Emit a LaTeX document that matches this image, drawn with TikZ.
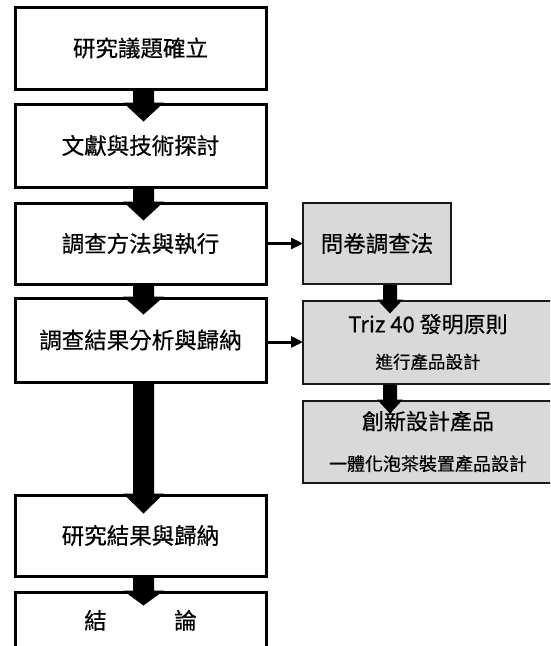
\documentclass[tikz,border=0pt]{standalone}
\usepackage{fontspec}
\setmainfont{Noto Sans CJK TC}[FakeBold=0.5]
\usetikzlibrary{calc,arrows.meta}
\tikzset{
  whitebox/.style={draw=black, line width=3pt, fill=white, inner sep=0pt, minimum width=251pt,
    font=\fontsize{22.5}{27}\selectfont},
  graybox/.style={draw=black!90, line width=2pt, fill=graybg, inner sep=0pt,
    font=\fontsize{22.5}{27}\selectfont, align=center},
  sidearrow/.style={draw=black, line width=3pt, -{Triangle[length=12pt,width=11pt]}, shorten >=-1pt},
}
\definecolor{graybg}{HTML}{D9D9D9}
% big block arrow from the bottom of #1 to the top of #2, x offset #3, shaft half width #4, head half width #5, head length #6
\newcommand\blockarrow[6]{%
  \fill[black] let \p1=(#1.south), \p2=(#2.north) in
    (\x1+#3-#4,\y1) -- (\x1+#3+#4,\y1) -- (\x1+#3+#4,\y2) -- (\x1+#3+#5,\y2)
    -- (\x1+#3,\y2-#6) -- (\x1+#3-#5,\y2) -- (\x1+#3-#4,\y2) -- cycle;}
\begin{document}
\begin{tikzpicture}[x=1pt,y=-1pt]
\useasboundingbox (0,0) rectangle (550,646);
\fill[white] (0,0) rectangle (550,646);
\clip (0,0) rectangle (550,646);
% left column
\node[whitebox, minimum height=82pt] (b1) at (140.5,48) {研究議題確立};
\node[whitebox, minimum height=83pt] (b2) at (140.5,145.5) {文獻與技術探討};
\node[whitebox, minimum height=81pt] (b3) at (140.5,243.5) {調查方法與執行};
\node[whitebox, minimum height=84pt] (b4) at (140.5,340) {調查結果分析與歸納};
\node[whitebox, minimum height=81pt] (b5) at (140.5,535.5) {研究結果與歸納};
\node[whitebox, minimum height=56pt, text height=18pt, text depth=0pt] (b6) at (140.5,620) {結\hspace{3em}論};
% right column
\node[graybox, minimum width=148pt, minimum height=81pt] (g1) at (377,243.5) {問卷調查法};
\node[graybox, minimum width=250pt, minimum height=83pt, font=\fontsize{22}{36}\selectfont] (g2) at (428,342)
  {Triz 40 發明原則\\[0pt]{\fontsize{17.5}{21}\selectfont 進行產品設計}};
\node[graybox, minimum width=250pt, minimum height=82pt, font=\fontsize{22}{41}\selectfont] (g3) at (428,441.5)
  {創新設計產品\\{\fontsize{18}{22}\selectfont 一體化泡茶裝置產品設計}};
% block arrows
\blockarrow{b1}{b2}{3pt}{10.5pt}{20.5pt}{19pt}
\blockarrow{b2}{b3}{3pt}{10.5pt}{20.5pt}{19pt}
\blockarrow{b3}{b4}{3pt}{10.5pt}{20.5pt}{18pt}
\blockarrow{b4}{b5}{3pt}{10.5pt}{20.5pt}{20pt}
\blockarrow{b5}{b6}{3pt}{10.5pt}{20.5pt}{15pt}
\blockarrow{g1}{g2}{13pt}{7pt}{13pt}{14pt}
\blockarrow{g2}{g3}{-38pt}{7pt}{13pt}{14pt}
% side arrows
\draw[sidearrow] (b3.east) -- (g1.west);
\draw[sidearrow] ($(b4.east)+(0,2)$) -- ($(g2.west)+(0,0)$);
\end{tikzpicture}
\end{document}
